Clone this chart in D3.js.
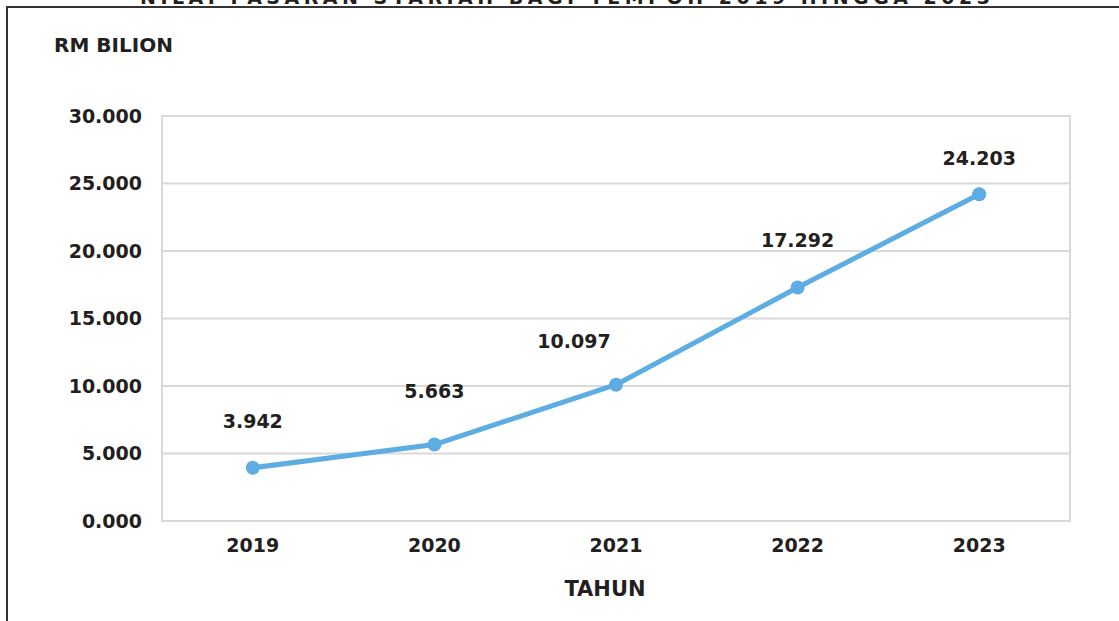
<!DOCTYPE html>
<html>
<head>
<meta charset="utf-8">
<script src="https://cdn.jsdelivr.net/npm/d3@7"></script>
<style>
  body { margin: 0; background: #fff; }
  svg text { font-family: "DejaVu Sans", Verdana, sans-serif; font-weight: bold; fill: #231f20; }
</style>
</head>
<body>
<script>
// data
const years = ["2019", "2020", "2021", "2022", "2023"];
const values = [3.942, 5.663, 10.097, 17.292, 24.203];
const yTicks = [0, 5, 10, 15, 20, 25, 30];
// label nudges (px) so labels sit like the original
const labelDx = [0, 0, -42, 0, 0];
const labelDy = [-46, -53, -43, -47, -36];

const W = 1119, H = 621;
const margin = {top: 116, right: 49, bottom: 100, left: 162};

const svg = d3.select("body").append("svg")
  .attr("width", W)
  .attr("height", H);

// outer frame (cut at top/right like the source)
svg.append("path")
  .attr("d", `M7,${H} V7 H${W}`)
  .attr("fill", "none")
  .attr("stroke", "#333")
  .attr("stroke-width", 2);

// title, mostly cut off in the source image
svg.append("text")
  .attr("x", 565)
  .attr("y", 4)
  .attr("text-anchor", "middle")
  .attr("textLength", 850)
  .attr("lengthAdjust", "spacing")
  .style("font-size", "19px")
  .text("NILAI PASARAN SYARIAH BAGI TEMPOH 2019 HINGGA 2023");

const x = d3.scaleBand()
  .domain(years)
  .range([margin.left, W - margin.right]);

const y = d3.scaleLinear()
  .domain([0, 30])
  .range([H - margin.bottom, margin.top]);

// gridlines
svg.append("g")
  .selectAll("line")
  .data(yTicks)
  .join("line")
  .attr("x1", margin.left)
  .attr("x2", W - margin.right)
  .attr("y1", d => y(d))
  .attr("y2", d => y(d))
  .attr("stroke", "#d9d9d9")
  .attr("stroke-width", 2);

// plot border
svg.append("rect")
  .attr("x", margin.left)
  .attr("y", y(30))
  .attr("width", W - margin.right - margin.left)
  .attr("height", y(0) - y(30))
  .attr("fill", "none")
  .attr("stroke", "#d9d9d9")
  .attr("stroke-width", 2);

// y axis labels
const yAxis = d3.axisLeft(y)
  .tickValues(yTicks)
  .tickFormat(d => d3.format(".3f")(d))
  .tickSize(0)
  .tickPadding(20);

svg.append("g")
  .attr("transform", `translate(${margin.left},0)`)
  .call(yAxis)
  .call(g => g.select(".domain").remove())
  .selectAll("text")
  .style("font-size", "19px")
  .attr("font-family", null)
  .attr("fill", null);

// x axis labels
const xAxis = d3.axisBottom(x).tickSize(0).tickPadding(18);
svg.append("g")
  .attr("transform", `translate(0,${y(0)})`)
  .call(xAxis)
  .call(g => g.select(".domain").remove())
  .selectAll("text")
  .style("font-size", "19px")
  .attr("font-family", null)
  .attr("fill", null);

// axis titles
svg.append("text")
  .attr("x", 54)
  .attr("y", 52)
  .style("font-size", "20px")
  .text("RM BILION");

svg.append("text")
  .attr("x", 605)
  .attr("y", 596)
  .attr("text-anchor", "middle")
  .style("font-size", "21px")
  .text("TAHUN");

// line + markers
const cx = (d, i) => x(years[i]) + x.bandwidth() / 2;
const line = d3.line()
  .x(cx)
  .y(d => y(d));

svg.append("path")
  .datum(values)
  .attr("d", line)
  .attr("fill", "none")
  .attr("stroke", "#5dade2")
  .attr("stroke-width", 5)
  .attr("stroke-linejoin", "round");

svg.selectAll(".pt")
  .data(values)
  .join("circle")
  .attr("class", "pt")
  .attr("cx", cx)
  .attr("cy", d => y(d))
  .attr("r", 7)
  .attr("fill", "#5dade2");

// data labels
svg.selectAll(".lbl")
  .data(values)
  .join("text")
  .attr("class", "lbl")
  .attr("x", (d, i) => cx(d, i) + labelDx[i])
  .attr("y", (d, i) => y(d) + labelDy[i])
  .attr("dy", "0.35em")
  .attr("text-anchor", "middle")
  .style("font-size", "19px")
  .text(d => d3.format(".3f")(d));
</script>
</body>
</html>
